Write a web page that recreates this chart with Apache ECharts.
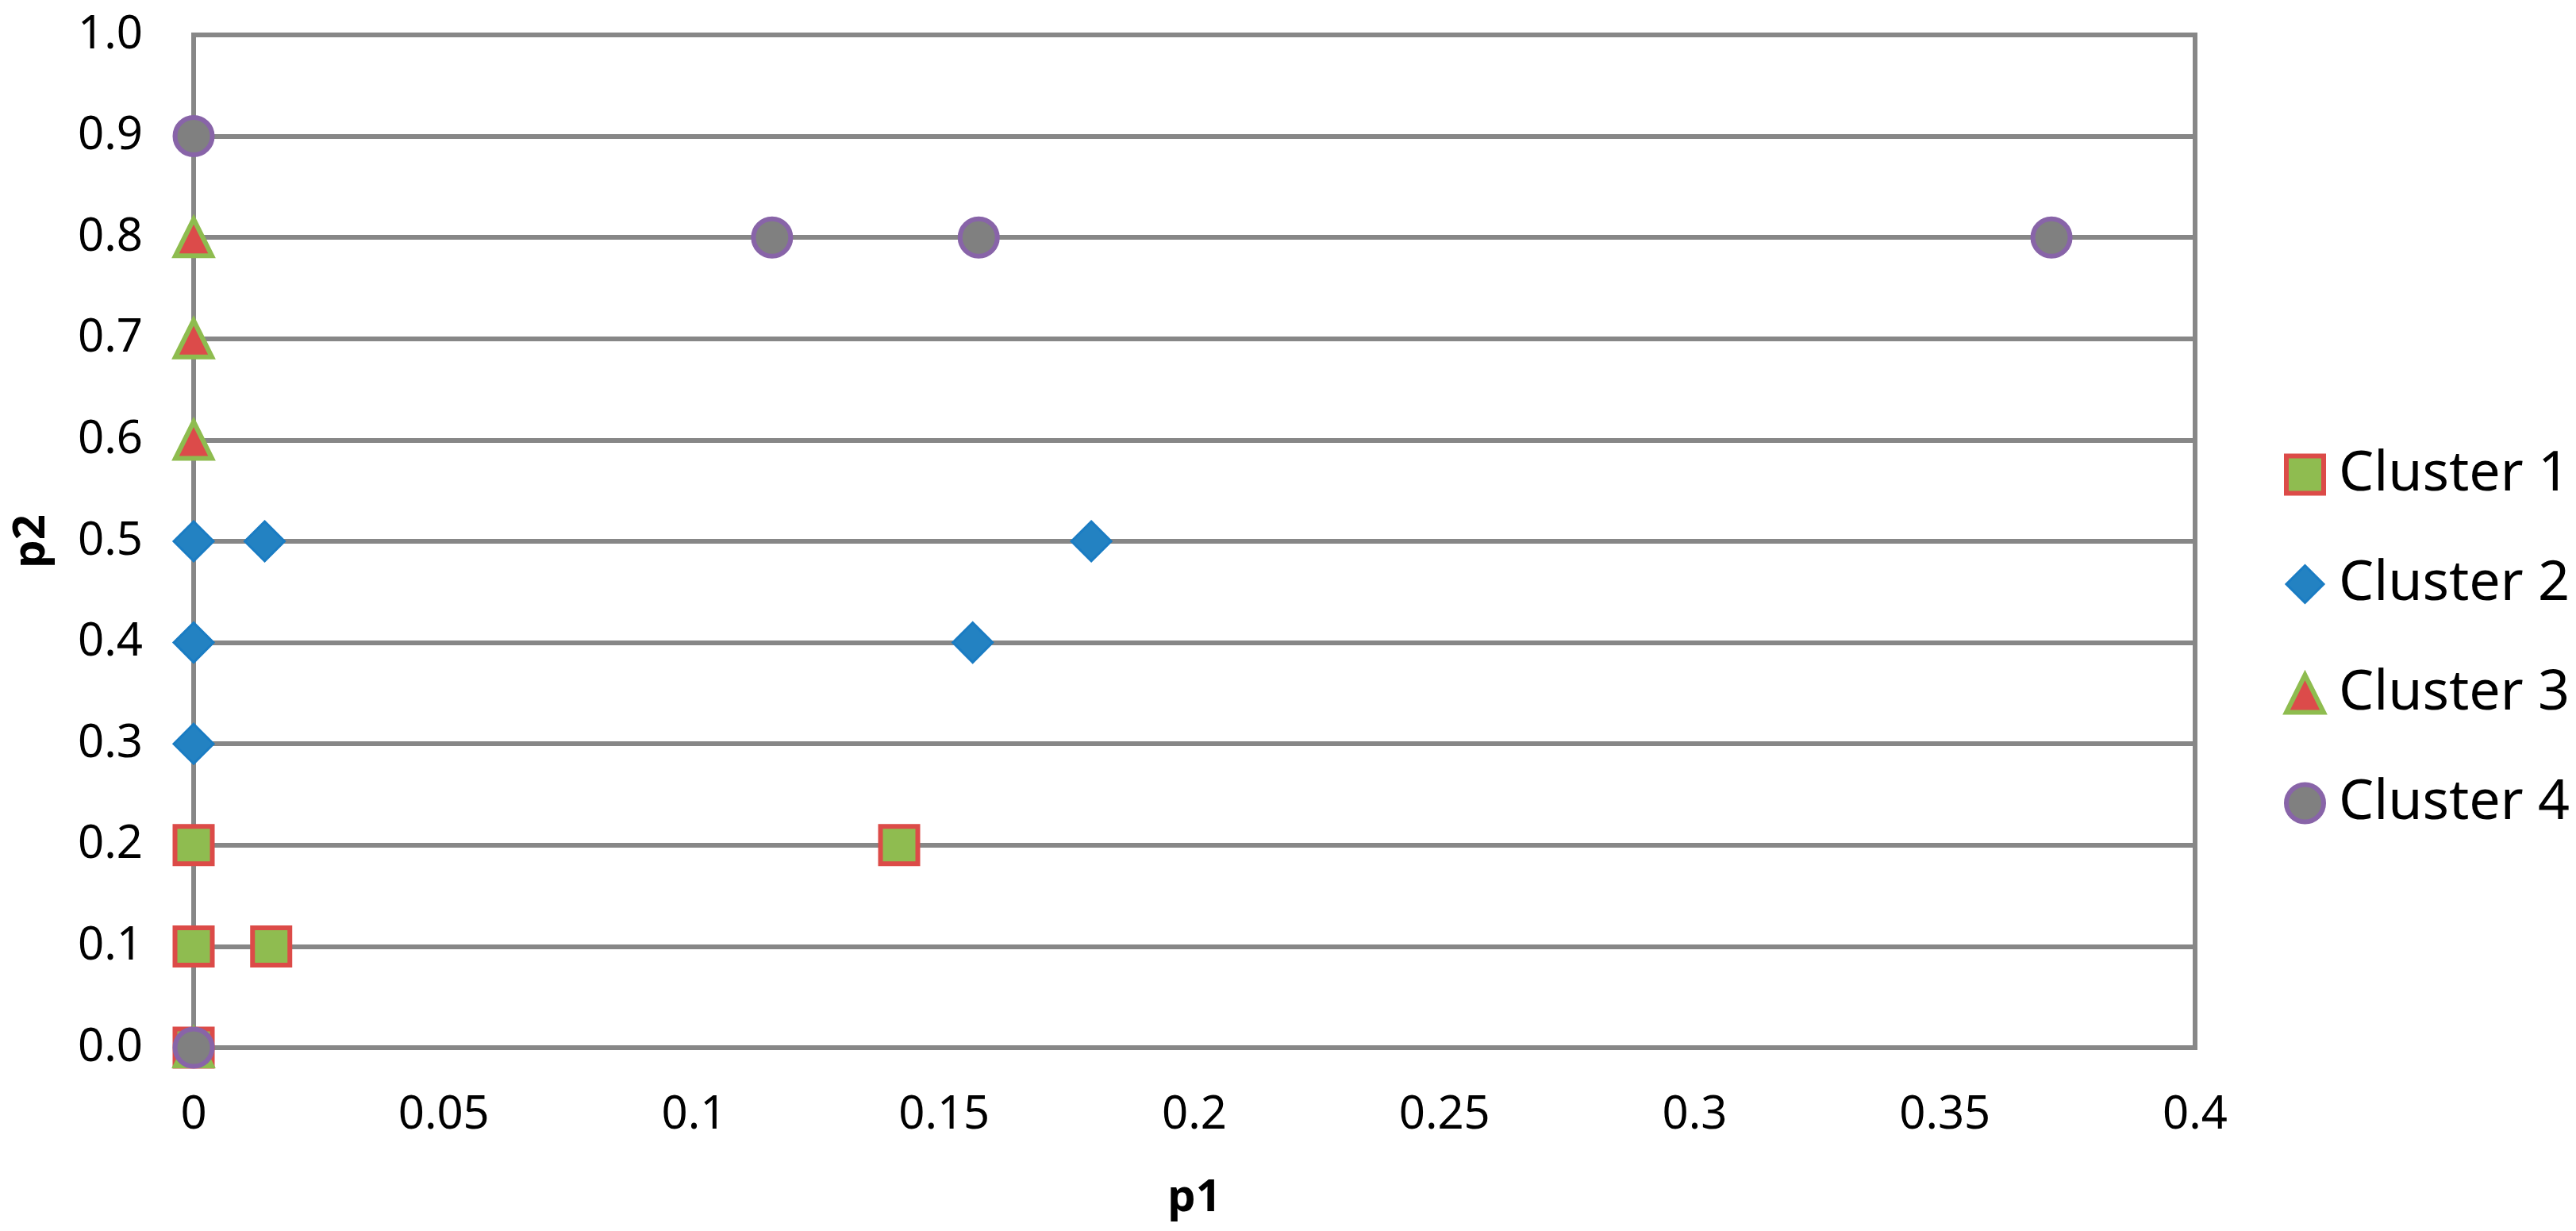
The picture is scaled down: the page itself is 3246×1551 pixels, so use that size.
<!DOCTYPE html>
<html>
<head>
<meta charset="utf-8">
<script src="https://cdn.jsdelivr.net/npm/echarts@6/dist/echarts.min.js"></script>
<style>
html,body{margin:0;padding:0;background:#fff;}
#chart{width:3246px;height:1551px;}
</style>
</head>
<body>
<div id="chart"></div>
<script>
// Data: [p1, p2]
var cluster1 = [[0, 0], [0, 0.1], [0.0155, 0.1], [0, 0.2], [0.141, 0.2]];
var cluster2 = [[0, 0.3], [0, 0.4], [0.1557, 0.4], [0, 0.5], [0.0142, 0.5], [0.1794, 0.5]];
var cluster3 = [[0, 0], [0, 0.6], [0, 0.7], [0, 0.8]];
var cluster4 = [[0, 0], [0, 0.9], [0.1156, 0.8], [0.1569, 0.8], [0.3713, 0.8]];
var seriesNames = ['Cluster 1', 'Cluster 2', 'Cluster 3', 'Cluster 4'];
var xTicks = [0, 0.05, 0.1, 0.15, 0.2, 0.25, 0.3, 0.35, 0.4];
var yTicks = [0, 0.1, 0.2, 0.3, 0.4, 0.5, 0.6, 0.7, 0.8, 0.9, 1.0];

var FONT = 'Noto Sans';
var GRID = '#878787';

var chart = echarts.init(document.getElementById('chart'), null, {renderer: 'canvas'});
chart.setOption({
  backgroundColor: '#ffffff',
  animation: false,
  textStyle: {fontFamily: FONT, color: '#000'},
  grid: {
    left: 244, right: 480, top: 44, bottom: 231,
    show: true, borderColor: GRID, borderWidth: 6, backgroundColor: 'transparent'
  },
  xAxis: {
    type: 'value',
    min: xTicks[0], max: xTicks[xTicks.length - 1], interval: 0.05,
    name: 'p1', nameLocation: 'middle', nameGap: 162,
    nameTextStyle: {fontFamily: FONT, fontSize: 56, fontWeight: 'bold', color: '#000'},
    axisLine: {show: false},
    axisTick: {show: false},
    splitLine: {show: false},
    axisLabel: {
      margin: 56, fontFamily: FONT, fontSize: 58, color: '#000',
      formatter: function (v) { return String(parseFloat(v.toFixed(2))); }
    }
  },
  yAxis: {
    type: 'value',
    min: yTicks[0], max: yTicks[yTicks.length - 1], interval: 0.1,
    name: 'p2', nameLocation: 'middle', nameGap: 176, nameRotate: 90,
    nameTextStyle: {fontFamily: FONT, fontSize: 56, fontWeight: 'bold', color: '#000'},
    axisLine: {show: true, onZero: false, lineStyle: {color: GRID, width: 6}},
    axisTick: {show: false},
    splitLine: {show: true, lineStyle: {color: GRID, width: 6}},
    axisLabel: {
      margin: 64, fontFamily: FONT, fontSize: 58, color: '#000',
      formatter: function (v) { return v.toFixed(1); }
    }
  },
  legend: {
    orient: 'vertical',
    left: 2873, top: 558,
    itemWidth: 47, itemHeight: 47, itemGap: 68,
    data: [
      {name: seriesNames[0], itemStyle: {borderWidth: 6}},
      {name: seriesNames[1], itemStyle: {borderWidth: 3}},
      {name: seriesNames[2], itemStyle: {borderWidth: 6}},
      {name: seriesNames[3], itemStyle: {borderWidth: 6}}
    ],
    textStyle: {fontFamily: FONT, fontSize: 70, color: '#000', padding: [0, 0, 0, 14]}
  },
  series: [
    {
      name: seriesNames[0], type: 'scatter', data: cluster1,
      symbol: 'rect', symbolSize: 47, z: 2,
      itemStyle: {color: '#8FBC50', borderColor: '#DC4B48', borderWidth: 6, opacity: 1}
    },
    {
      name: seriesNames[1], type: 'scatter', data: cluster2,
      symbol: 'diamond', symbolSize: 50, z: 3,
      itemStyle: {color: '#2382C2', borderColor: '#1A7CC3', borderWidth: 3, opacity: 1}
    },
    {
      name: seriesNames[2], type: 'scatter', data: cluster3,
      symbol: 'triangle', symbolSize: 46, z: 4,
      itemStyle: {color: '#DC4B4A', borderColor: '#8EBC4F', borderWidth: 6, opacity: 1}
    },
    {
      name: seriesNames[3], type: 'scatter', data: cluster4,
      symbol: 'circle', symbolSize: 47, z: 5,
      itemStyle: {color: '#808080', borderColor: '#8864A8', borderWidth: 6, opacity: 1}
    }
  ]
});
</script>
</body>
</html>
